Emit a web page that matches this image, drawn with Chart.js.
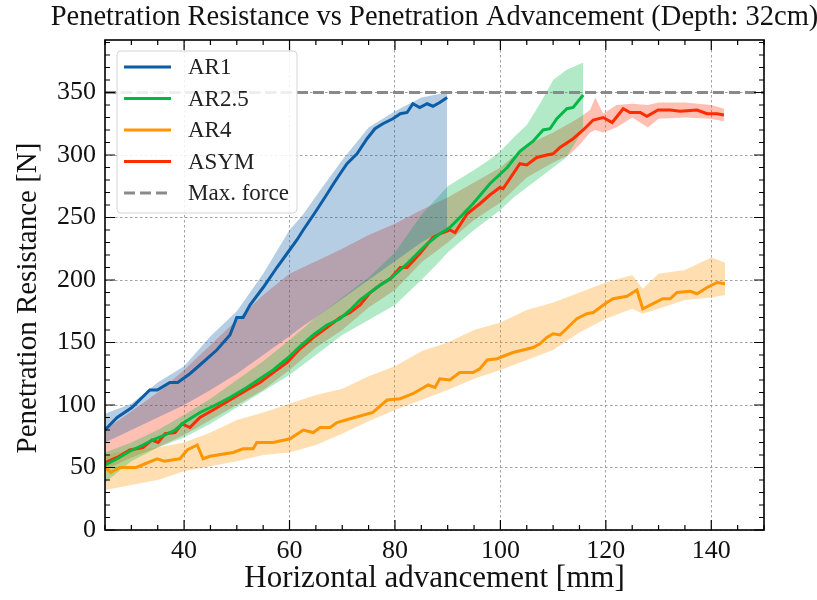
<!DOCTYPE html>
<html>
<head>
<meta charset="utf-8">
<script src="https://cdn.jsdelivr.net/npm/chart.js@4.4.1/dist/chart.umd.min.js"></script>
<style>
  html, body { margin: 0; padding: 0; background: #fff; }
  canvas { display: block; }
</style>
</head>
<body>
<canvas id="penChart" width="817" height="600"></canvas>
<script>
const SERIF = "'Liberation Serif', 'Times New Roman', serif";

// --- AXES ---
const xRange = [25, 150];
const yRange = [0, 392];
const xMajorTicks = [40, 60, 80, 100, 120, 140];
const yMajorTicks = [0, 50, 100, 150, 200, 250, 300, 350];
const xMinorStep = 5;
const yMinorStep = 10;
const maxForce = 350;

// --- SERIES (mean line + min/max band per geometry) ---
const ar1X = [25, 27.3, 30.1, 33.5, 34.9, 37.3, 38.8, 41.1, 43, 46.2, 48.7, 50, 51.2, 52.5, 55, 57.6, 59.5, 61.4, 62.6, 65, 67, 68.5, 69.6, 70.9, 72.8, 74.7, 76.2, 77.7, 79.6, 81, 82.3, 83.4, 84.7, 86.1, 87.2, 88.5, 89.9];
const ar1Mean = [80, 90, 98, 112, 112, 118, 118, 125, 132, 144, 156, 170, 170, 180, 194, 210, 221, 232, 240, 255, 268, 278, 285, 293, 301, 313, 321, 325, 329, 333, 334, 341, 338, 341, 339, 342, 346];
const ar1BandX = [25, 30, 35, 40, 45, 50, 55, 60, 62.5, 65, 70, 75, 80, 85, 89.9];
const ar1Upper = [93, 101, 118, 131, 155, 175, 205, 240, 252, 267, 296, 322, 335, 346, 350];
const ar1Lower = [70, 80, 90, 100, 112, 125, 140, 155, 163, 170, 185, 200, 215, 230, 242];

const ar25X = [25, 27.3, 29.7, 32.2, 34, 36.4, 38.3, 40, 43, 45.5, 48.7, 51.9, 54.4, 56.9, 59.5, 62, 64.5, 67.1, 69.6, 71.5, 73.4, 75.3, 77.2, 79.1, 82.3, 86.1, 88.5, 90.4, 92.3, 94.8, 98, 101.3, 103.7, 106.2, 108.1, 109.4, 110.7, 112.6, 113.8, 115.7];
const ar25Mean = [52, 57, 63, 68, 72, 76, 80, 86, 94, 99, 106, 114, 121, 128, 137, 147, 156, 164, 169, 176, 184, 190, 196, 201, 213, 229, 237, 242, 250, 261, 277, 290, 303, 311, 320, 321, 329, 337, 338, 348];
const ar25BandX = [25, 30, 35, 40, 45, 50, 55, 60, 65, 70, 75, 80, 85, 88.5, 90, 95, 97.5, 100, 102.5, 105, 107.5, 110, 112.5, 115.7];
const ar25Upper = [62, 70, 80, 92, 105, 120, 135, 152, 170, 186, 202, 222, 252, 268, 275, 288, 295, 303, 314, 324, 341, 360, 368, 374];
const ar25Lower = [38, 55, 66, 74, 85, 98, 111, 124, 140, 156, 168, 180, 200, 215, 222, 240, 248, 256, 266, 274, 282, 290, 298, 320];

const ar4X = [25, 26.1, 27.8, 30.9, 34.9, 36.2, 39.2, 40.6, 42.5, 43.6, 44.9, 49.3, 51.2, 53.1, 53.8, 56.9, 60.1, 62.6, 64.5, 65.8, 67.7, 69, 71.5, 75.8, 78.5, 81, 83.4, 86.3, 87.6, 88.5, 90.4, 92.3, 94.8, 96.1, 97.5, 99.4, 100.5, 102.4, 106.2, 107.5, 108.8, 110, 111.3, 114.5, 116.4, 117.6, 120.2, 121.4, 124, 125.9, 127, 130.8, 132.2, 133.5, 136, 137.3, 139.2, 141.1, 142.6];
const ar4Mean = [50, 46, 50, 50, 57, 55, 57, 64, 68, 57, 59, 62, 65, 65, 70, 70, 73, 80, 78, 82, 82, 86, 89, 94, 104, 105, 109, 116, 114, 121, 120, 126, 126, 129, 136, 137, 139, 142, 146, 149, 154, 157, 156, 169, 173, 174, 182, 185, 187, 192, 177, 185, 185, 190, 191, 189, 194, 198, 197];
const ar4BandX = [25, 30, 35, 40, 45, 50, 55, 60, 65, 70, 75, 80, 85, 90, 95, 100, 105, 110, 115, 120, 125, 127, 130, 135, 140, 142.6];
const ar4Upper = [60, 64, 66, 70, 78, 88, 94, 101, 108, 113, 123, 131, 143, 150, 160, 166, 176, 182, 190, 198, 204, 193, 205, 208, 218, 214];
const ar4Lower = [32, 36, 40, 47, 51, 55, 60, 62, 68, 77, 87, 96, 104, 112, 121, 128, 136, 144, 158, 169, 177, 173, 177, 184, 186, 188];

const asymX = [25, 27.3, 29.7, 32.2, 33.9, 35.1, 36.4, 38.3, 39.6, 41.1, 43, 45.5, 48.7, 51.9, 54.4, 56.9, 59.5, 62, 64.5, 67.1, 69.6, 71.5, 73.4, 75.3, 77.2, 79.1, 81, 82.3, 84.7, 87.2, 88.5, 90.4, 91.4, 93.7, 96.1, 98, 99.9, 100.5, 103.7, 105, 106.9, 108.8, 110, 111.3, 113.8, 115.7, 117.6, 119.5, 121.2, 123.3, 124.6, 126.5, 127.8, 129.9, 132.2, 134.1, 137.3, 139.2, 141.1, 142.4];
const asymMean = [54, 58, 64, 66, 72, 70, 77, 78, 85, 82, 90, 96, 104, 112, 118, 126, 134, 145, 154, 162, 170, 174, 180, 190, 196, 201, 210, 210, 221, 234, 237, 240, 238, 253, 261, 268, 274, 273, 293, 292, 298, 300, 301, 306, 313, 320, 328, 330, 326, 337, 334, 334, 331, 336, 336, 335, 336, 333, 333, 332];
const asymBandX = [25, 30, 35, 40, 45, 50, 55, 60, 65, 70, 75, 80, 85, 90, 95, 100, 105, 110, 113, 115, 117, 118, 119.5, 122, 125, 128, 130, 135, 140, 142.4];
const asymUpper = [80, 95, 110, 128, 148, 168, 188, 205, 215, 225, 236, 245, 256, 266, 278, 290, 308, 318, 325, 330, 336, 346, 333, 340, 341, 340, 342, 342, 340, 337];
const asymLower = [48, 58, 66, 76, 88, 100, 112, 128, 146, 160, 178, 192, 214, 230, 248, 262, 282, 294, 300, 308, 318, 320, 318, 322, 330, 322, 329, 330, 329, 327];

// SciencePlots-style colour cycle
const series = [
  { label: 'AR1',   color: '#0C5DA5', rgb: '12,93,165', x: ar1X,  mean: ar1Mean,  bx: ar1BandX,  up: ar1Upper,  lo: ar1Lower },
  { label: 'AR2.5', color: '#00B945', rgb: '0,185,69',  x: ar25X, mean: ar25Mean, bx: ar25BandX, up: ar25Upper, lo: ar25Lower },
  { label: 'AR4',   color: '#FF9500', rgb: '255,149,0', x: ar4X,  mean: ar4Mean,  bx: ar4BandX,  up: ar4Upper,  lo: ar4Lower },
  { label: 'ASYM',  color: '#FF2C00', rgb: '255,44,0',  x: asymX, mean: asymMean, bx: asymBandX, up: asymUpper, lo: asymLower },
];
const maxForceStyle = { label: 'Max. force', color: '#8a8a8a', dash: [11, 5] };

const pts = (xs, ys) => xs.map((v, i) => ({ x: v, y: ys[i] }));

const datasets = [];
series.forEach(s => {
  datasets.push({ data: pts(s.bx, s.up), borderWidth: 0, pointRadius: 0, fill: false });
  datasets.push({ data: pts(s.bx, s.lo), borderWidth: 0, pointRadius: 0, fill: '-1',
                  backgroundColor: `rgba(${s.rgb},0.3)` });
});
series.forEach(s => {
  datasets.push({ label: s.label, data: pts(s.x, s.mean), borderColor: s.color,
                  borderWidth: 3, pointRadius: 0, fill: false, tension: 0 });
});
datasets.push({ label: maxForceStyle.label, data: pts(xRange, [maxForce, maxForce]),
                borderColor: maxForceStyle.color, borderDash: maxForceStyle.dash,
                borderWidth: 3, pointRadius: 0, fill: false });

// Inward major/minor ticks on all four sides plus the plot frame.
const frameTicks = {
  id: 'frameTicks',
  afterDatasetsDraw(chart) {
    const { ctx, chartArea: a, scales: { x, y } } = chart;
    ctx.save();
    ctx.strokeStyle = '#000';
    ctx.lineWidth = 1.2;
    ctx.beginPath();
    for (let v = xRange[0]; v <= xRange[1]; v += xMinorStep) {
      const px = x.getPixelForValue(v);
      const len = xMajorTicks.includes(v) ? 10 : 5;
      ctx.moveTo(px, a.bottom); ctx.lineTo(px, a.bottom - len);
      ctx.moveTo(px, a.top); ctx.lineTo(px, a.top + len);
    }
    for (let v = yRange[0]; v <= yRange[1]; v += yMinorStep) {
      const py = y.getPixelForValue(v);
      const len = yMajorTicks.includes(v) ? 10 : 5;
      ctx.moveTo(a.left, py); ctx.lineTo(a.left + len, py);
      ctx.moveTo(a.right, py); ctx.lineTo(a.right - len, py);
    }
    ctx.stroke();
    ctx.lineWidth = 1.6;
    ctx.strokeRect(a.left, a.top, a.width, a.height);
    ctx.restore();
  }
};

// Title, rotated y label and the framed legend in the upper-left corner.
const decorations = {
  id: 'decorations',
  afterDraw(chart) {
    const { ctx, chartArea: a } = chart;
    ctx.save();
    ctx.fillStyle = '#111';
    ctx.font = `28.5px ${SERIF}`;
    ctx.textAlign = 'center';
    ctx.textBaseline = 'middle';
    ctx.fillText('Penetration Resistance vs Penetration Advancement (Depth: 32cm)', (a.left + a.right) / 2, 18);

    ctx.save();
    ctx.translate(28, (a.top + a.bottom) / 2 + 13);
    ctx.rotate(-Math.PI / 2);
    ctx.font = `29px ${SERIF}`;
    ctx.fillText('Penetration Resistance [N]', 0, 0);
    ctx.restore();

    const bx = a.left + 12, by = a.top + 11, bw = 180, bh = 162;
    ctx.beginPath();
    ctx.roundRect(bx, by, bw, bh, 4);
    ctx.fillStyle = 'rgba(255,255,255,0.85)';
    ctx.fill();
    ctx.strokeStyle = '#d4d4d4';
    ctx.lineWidth = 1;
    ctx.stroke();

    const items = series.map(s => ({ label: s.label, color: s.color, dash: [] }))
      .concat([{ label: maxForceStyle.label, color: maxForceStyle.color, dash: maxForceStyle.dash }]);
    ctx.font = `23px ${SERIF}`;
    ctx.textAlign = 'left';
    items.forEach((it, i) => {
      const cy = by + 16 + i * 31.5;
      ctx.beginPath();
      ctx.setLineDash(it.dash);
      ctx.strokeStyle = it.color;
      ctx.lineWidth = 3;
      ctx.moveTo(bx + 7, cy); ctx.lineTo(bx + 54, cy);
      ctx.stroke();
      ctx.setLineDash([]);
      ctx.fillStyle = '#222';
      ctx.fillText(it.label, bx + 71, cy + 1);
    });
    ctx.restore();
  }
};

new Chart(document.getElementById('penChart'), {
  type: 'line',
  data: { datasets },
  plugins: [frameTicks, decorations],
  options: {
    responsive: false,
    animation: false,
    events: [],
    layout: { padding: { top: 40, right: 53, bottom: 0, left: 0 } },
    plugins: {
      legend: { display: false },
      tooltip: { enabled: false },
      filler: { drawTime: 'beforeDatasetsDraw' }
    },
    scales: {
      x: {
        type: 'linear', min: xRange[0], max: xRange[1],
        afterBuildTicks: s => { s.ticks = xMajorTicks.map(v => ({ value: v })); },
        afterFit: s => { s.height = 70; },
        grid: { color: '#8a8a8a', lineWidth: 0.8, drawTicks: false },
        border: { display: false, dash: [2.5, 2.5] },
        ticks: { color: '#111', font: { family: SERIF, size: 26 }, padding: 6, maxRotation: 0 },
        title: { display: true, text: 'Horizontal advancement [mm]', color: '#111',
                 font: { family: SERIF, size: 31 }, padding: { top: 0, bottom: 3 } }
      },
      y: {
        type: 'linear', min: yRange[0], max: yRange[1],
        afterBuildTicks: s => { s.ticks = yMajorTicks.map(v => ({ value: v })); },
        afterFit: s => { s.width = 105; },
        grid: { color: '#8a8a8a', lineWidth: 0.8, drawTicks: false },
        border: { display: false, dash: [2.5, 2.5] },
        ticks: { color: '#111', font: { family: SERIF, size: 26 }, padding: 9 }
      }
    }
  }
});
</script>
</body>
</html>
